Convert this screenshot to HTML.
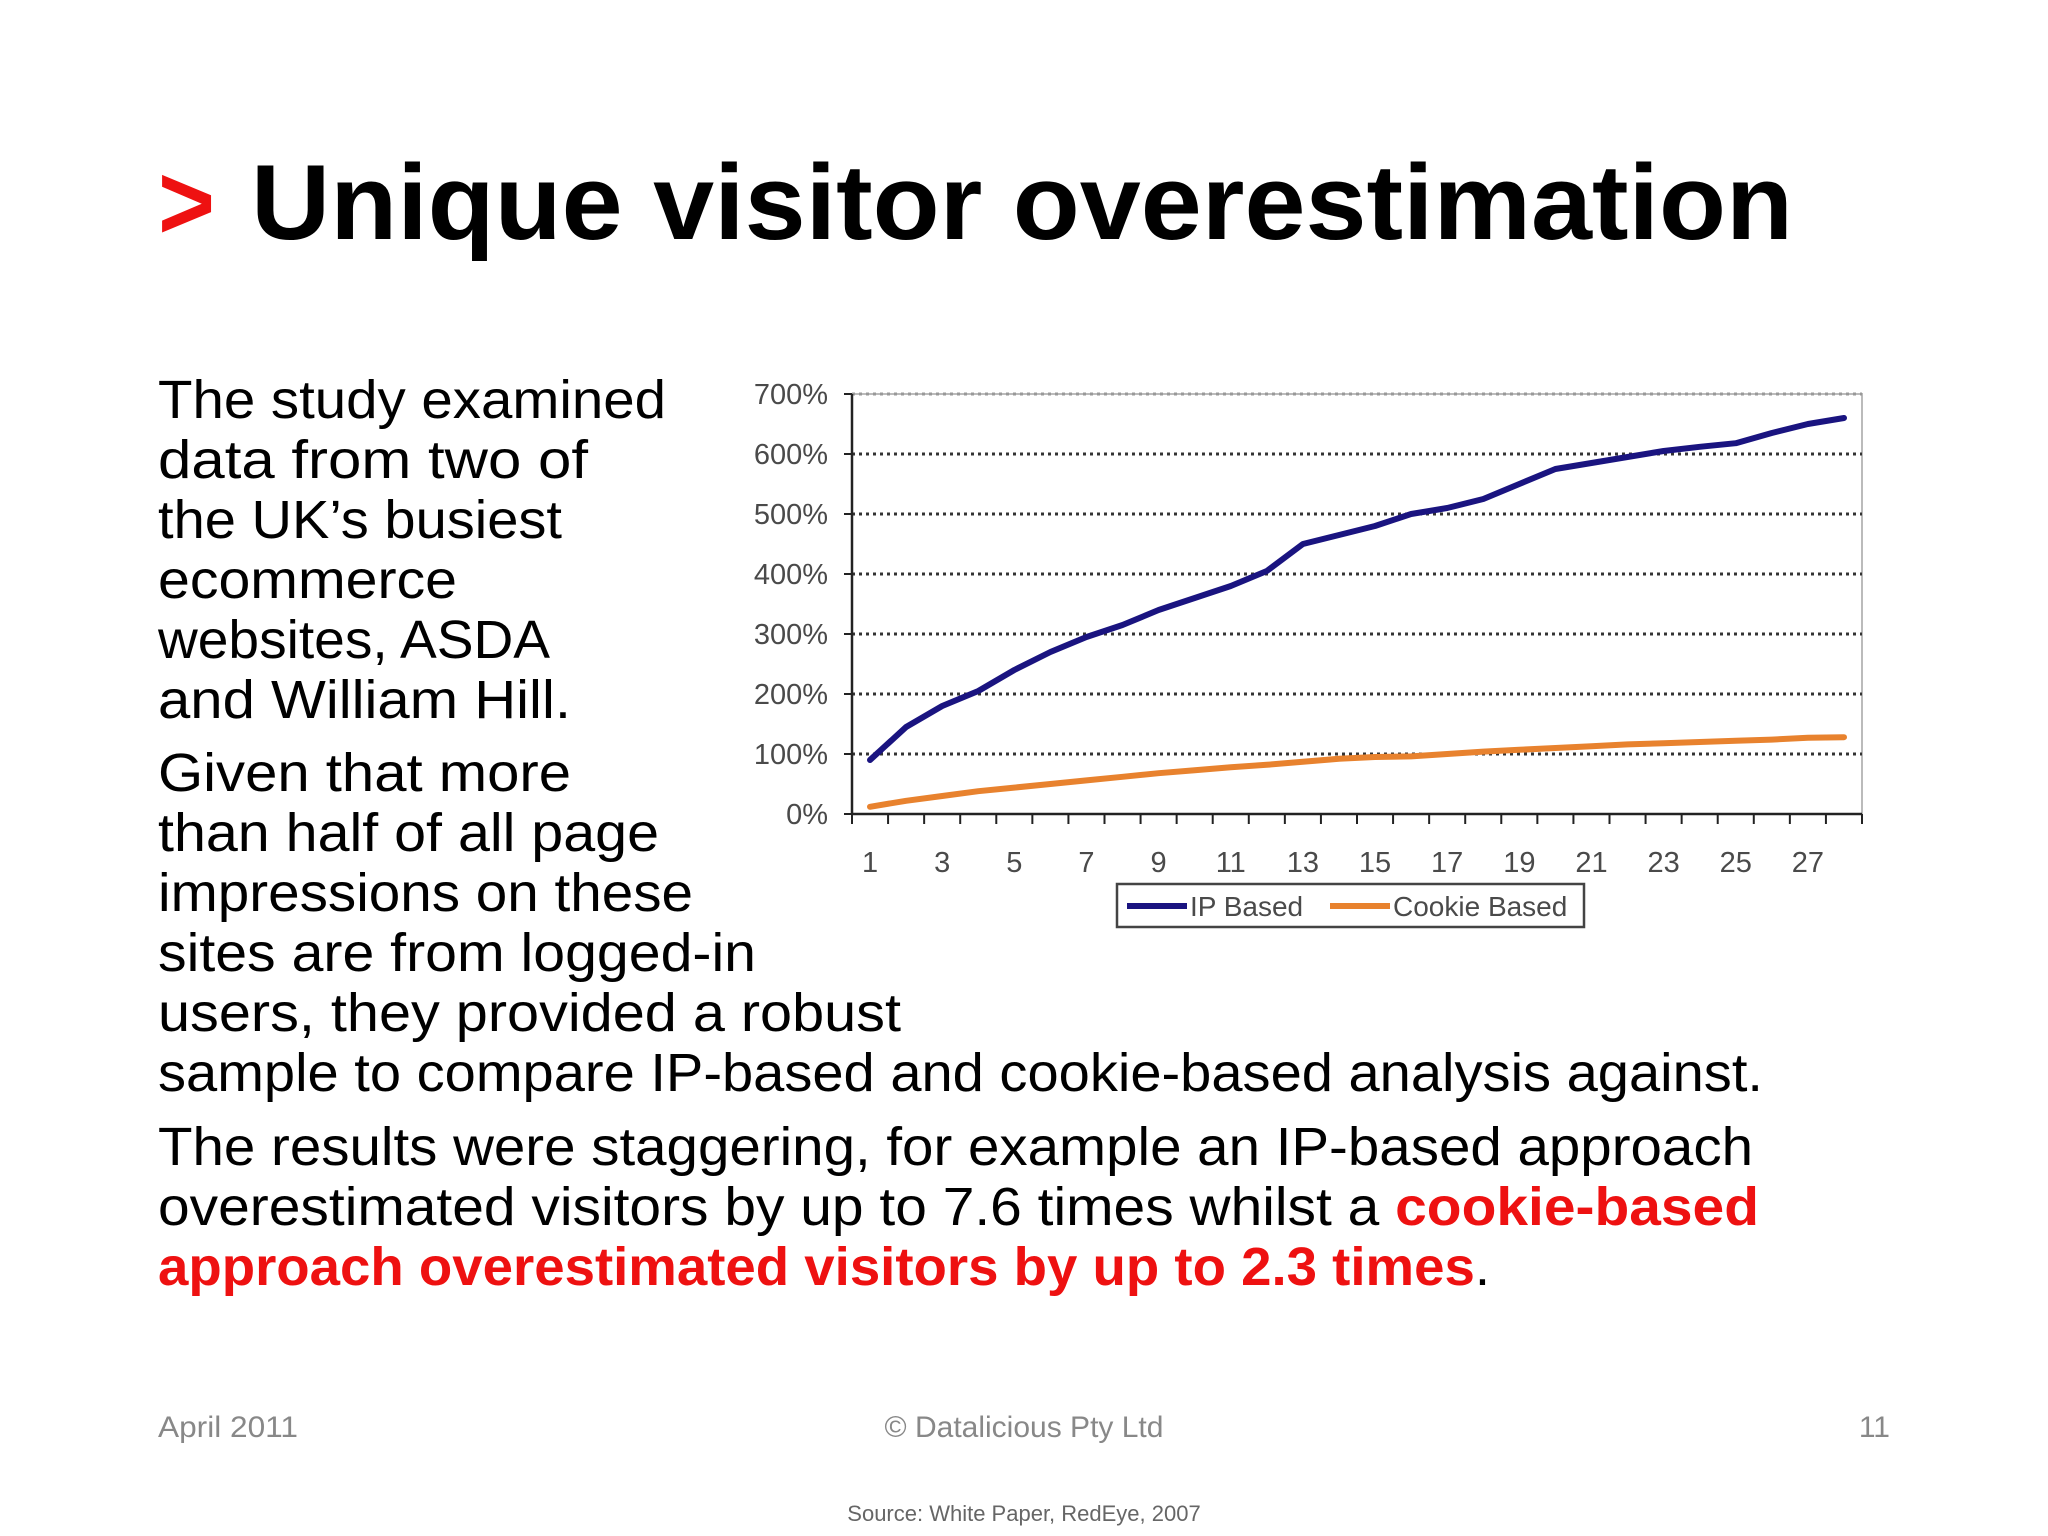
<!DOCTYPE html>
<html><head><meta charset="utf-8"><style>
html,body{margin:0;padding:0;background:#fff}
svg{display:block}
text{font-family:"Liberation Sans",sans-serif}
</style></head><body>
<svg id="slide" width="2048" height="1536" viewBox="0 0 2048 1536" xmlns="http://www.w3.org/2000/svg">
<g>
<text x="158" y="239" font-size="107" font-weight="bold" fill="#ee1111" textLength="57" lengthAdjust="spacingAndGlyphs">&gt;</text>
<text x="251" y="239" font-size="107" font-weight="bold" fill="#000" textLength="1542" lengthAdjust="spacingAndGlyphs">Unique visitor overestimation</text>
</g>
<g font-size="54" fill="#000">
<text x="158" y="418" textLength="508" lengthAdjust="spacingAndGlyphs">The study examined</text>
<text x="158" y="478" textLength="430" lengthAdjust="spacingAndGlyphs">data from two of</text>
<text x="158" y="538" textLength="404" lengthAdjust="spacingAndGlyphs">the UK’s busiest</text>
<text x="158" y="598" textLength="299" lengthAdjust="spacingAndGlyphs">ecommerce</text>
<text x="158" y="658" textLength="392" lengthAdjust="spacingAndGlyphs">websites, ASDA</text>
<text x="158" y="718" textLength="413" lengthAdjust="spacingAndGlyphs">and William Hill.</text>
<text x="158" y="791" textLength="413" lengthAdjust="spacingAndGlyphs">Given that more</text>
<text x="158" y="851" textLength="501" lengthAdjust="spacingAndGlyphs">than half of all page</text>
<text x="158" y="911" textLength="535" lengthAdjust="spacingAndGlyphs">impressions on these</text>
<text x="158" y="971" textLength="598" lengthAdjust="spacingAndGlyphs">sites are from logged-in</text>
<text x="158" y="1031" textLength="743" lengthAdjust="spacingAndGlyphs">users, they provided a robust</text>
<text x="158" y="1091" textLength="1605" lengthAdjust="spacingAndGlyphs">sample to compare IP-based and cookie-based analysis against.</text>
<text x="158" y="1165" textLength="1595" lengthAdjust="spacingAndGlyphs">The results were staggering, for example an IP-based approach</text>
<text x="158" y="1225" textLength="1601" lengthAdjust="spacingAndGlyphs">overestimated visitors by up to 7.6 times whilst a <tspan fill="#ee1111" font-weight="bold">cookie-based</tspan></text>
<text x="158" y="1285" textLength="1332" lengthAdjust="spacingAndGlyphs"><tspan fill="#ee1111" font-weight="bold">approach overestimated visitors by up to 2.3 times</tspan>.</text>
</g>
<g id="chart"></g>
<g fill="#888" font-size="30">
<text x="158" y="1437" textLength="140" lengthAdjust="spacingAndGlyphs">April 2011</text>
<text x="1024" y="1437" text-anchor="middle">© Datalicious Pty Ltd</text>
<text x="1890" y="1437" text-anchor="end">11</text>
<text x="1024" y="1521" text-anchor="middle" font-size="22" fill="#666">Source: White Paper, RedEye, 2007</text>
</g>
</svg>
<script>
const categories = [1,2,3,4,5,6,7,8,9,10,11,12,13,14,15,16,17,18,19,20,21,22,23,24,25,26,27,28];
const ipValues = [90,145,180,205,240,270,295,315,340,360,380,405,450,465,480,500,510,525,550,575,585,595,605,612,618,635,650,660];
const cookieValues = [12,22,30,38,44,50,56,62,68,73,78,82,87,92,95,96,100,104,107,110,113,116,118,120,122,124,127,128];
const yTicks = [0,100,200,300,400,500,600,700];
const yTickLabels = ["0%","100%","200%","300%","400%","500%","600%","700%"];

const NS = "http://www.w3.org/2000/svg";
const chart = document.getElementById('chart');
const L = 852, R = 1862, T = 394, B = 814, YMAX = 700;
const step = (R - L) / categories.length;
const xPos = i => L + step * (i + 0.5);
const yPos = v => B - (v / YMAX) * (B - T);
function mk(tag, attrs, parent) {
  const e = document.createElementNS(NS, tag);
  for (const k in attrs) e.setAttribute(k, attrs[k]);
  (parent || chart).appendChild(e);
  return e;
}
const frame = mk('rect', {x: L, y: T, width: R - L, height: B - T, fill: 'none', stroke: '#bbb', 'stroke-width': 2});


yTicks.forEach((v, i) => {
  if (v > 0) {
    const g = mk('line', {x1: L, x2: R, y1: yPos(v), y2: yPos(v), stroke: v === YMAX ? '#999' : '#333', 'stroke-width': 3, 'stroke-dasharray': '3 4'});
    
    
  }
  const tk = mk('line', {x1: L - 8, x2: L, y1: yPos(v), y2: yPos(v), stroke: '#222', 'stroke-width': 2});
  
  
  const t = mk('text', {x: 828, y: yPos(v) + 10, 'text-anchor': 'end', 'font-size': 29, fill: '#4a4a4a'});
  
  
  t.textContent = yTickLabels[i];
});
const ya = mk('line', {x1: L, x2: L, y1: T, y2: B, stroke: '#222', 'stroke-width': 2.5});


const xa = mk('line', {x1: L, x2: R, y1: B, y2: B, stroke: '#222', 'stroke-width': 2.5});


for (let i = 0; i <= categories.length; i++) {
  const x = L + step * i;
  const tk = mk('line', {x1: x, x2: x, y1: B, y2: B + 10, stroke: '#222', 'stroke-width': 2});
  
  
}
categories.forEach((c, i) => {
  if (c % 2 === 1) {
    const t = mk('text', {x: xPos(i), y: 872, 'text-anchor': 'middle', 'font-size': 29, fill: '#4a4a4a'});
    
    
    t.textContent = c;
  }
});
function line(vals, color, name) {
  const d = vals.map((v, i) => (i ? 'L' : 'M') + xPos(i).toFixed(1) + ' ' + yPos(v).toFixed(1)).join(' ');
  const p = mk('path', {d: d, fill: 'none', stroke: color, 'stroke-width': 6, 'stroke-linejoin': 'round', 'stroke-linecap': 'round'});
  
  
}
line(cookieValues, '#e8822e', 'cookie-based-line');
line(ipValues, '#1a1480', 'ip-based-line');
const lg = mk('g', {});


mk('rect', {x: 1117, y: 884, width: 467, height: 43, fill: '#fff', stroke: '#444', 'stroke-width': 2.5}, lg);
const e1 = mk('line', {x1: 1127, x2: 1187, y1: 906, y2: 906, stroke: '#1a1480', 'stroke-width': 6}, lg);


const t1 = mk('text', {x: 1190, y: 916, 'font-size': 28, fill: '#4a4a4a'}, lg);


t1.textContent = 'IP Based';
const e2 = mk('line', {x1: 1330, x2: 1390, y1: 906, y2: 906, stroke: '#e8822e', 'stroke-width': 6}, lg);


const t2 = mk('text', {x: 1393, y: 916, 'font-size': 28, fill: '#4a4a4a'}, lg);


t2.textContent = 'Cookie Based';
</script>
</body></html>
